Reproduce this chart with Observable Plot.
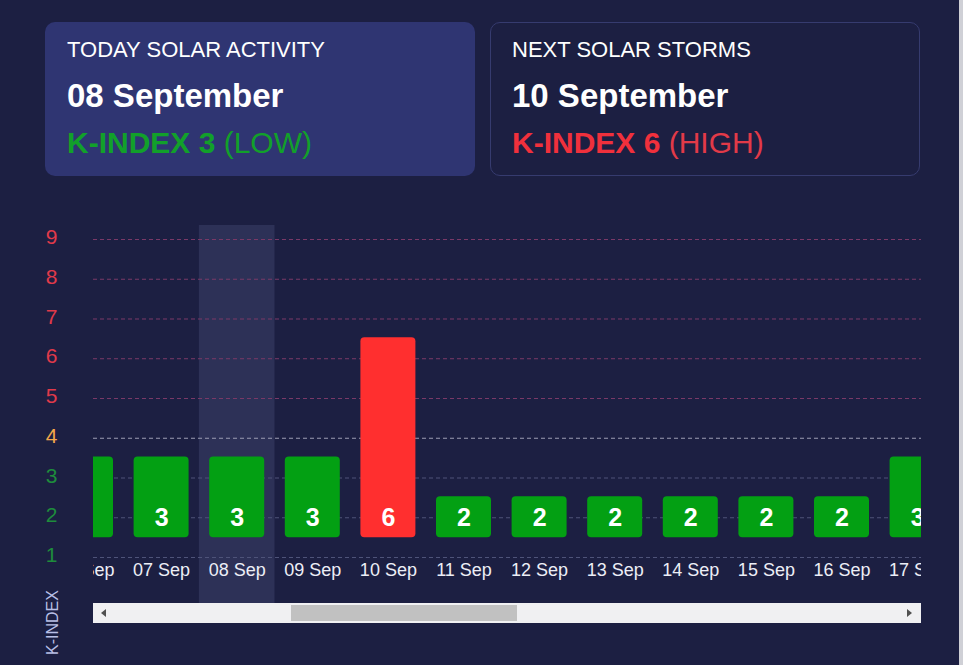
<!DOCTYPE html>
<html>
<head>
<meta charset="utf-8">
<script src="https://cdn.jsdelivr.net/npm/d3@7"></script>
<script src="https://cdn.jsdelivr.net/npm/@observablehq/plot@0.6"></script>
<style>
  html, body { margin: 0; padding: 0; }
  body { width: 963px; height: 665px; background: #1c1f42; position: relative; overflow: hidden;
         font-family: "Liberation Sans", Arial, sans-serif; }
  .card { position: absolute; top: 22px; width: 430px; height: 154px; border-radius: 10px; box-sizing: border-box; }
  .card .t { position: absolute; left: 22px; white-space: nowrap; line-height: 1; }
  .c1 { left: 45px; background: #2f3572; }
  .c2 { left: 490px; background: #1c1f42; border: 1px solid #363b6f; }
  .c2 .t { left: 21px; }
  .title { top: 17px; font-size: 22px; color: #ffffff; }
  .date { top: 57px; font-size: 33px; font-weight: bold; color: #ffffff; }
  .kidx { top: 106px; font-size: 30px; }
  .kidx b { font-weight: bold; }
  .c2 .title { top: 16px; } .c2 .date { top: 56px; } .c2 .kidx { top: 105px; }
  #chart { position: absolute; left: 0; top: 190px; }
  .sb { position: absolute; left: 93px; top: 603px; width: 828px; height: 20px; background: #f0f0f2; }
  .thumb { position: absolute; left: 198px; top: 2px; width: 226px; height: 16px; background: #c1c1c1; }
  .arrL { position: absolute; left: 8px; top: 6px; width: 0; height: 0; border-top: 4px solid transparent; border-bottom: 4px solid transparent; border-right: 5px solid #505050; }
  .arrR { position: absolute; right: 9px; top: 6px; width: 0; height: 0; border-top: 4px solid transparent; border-bottom: 4px solid transparent; border-left: 5px solid #505050; }
  .edge { position: absolute; left: 959px; top: 0; width: 4px; height: 665px; background: #cfd0d6; }
</style>
</head>
<body>
<div class="card c1">
  <div class="t title">TODAY SOLAR ACTIVITY</div>
  <div class="t date">08 September</div>
  <div class="t kidx" style="color:#12a02a"><b>K-INDEX 3</b> (LOW)</div>
</div>
<div class="card c2">
  <div class="t title">NEXT SOLAR STORMS</div>
  <div class="t date">10 September</div>
  <div class="t kidx" style="color:#f0303c"><b>K-INDEX 6</b> <span style="color:#e23a48">(HIGH)</span></div>
</div>
<div id="chart"></div>
<div class="sb"><div class="arrL"></div><div class="thumb"></div><div class="arrR"></div></div>
<div class="edge"></div>
<script>
// ---- data ----
const dates = ["06 Sep", "07 Sep", "08 Sep", "09 Sep", "10 Sep", "11 Sep", "12 Sep", "13 Sep", "14 Sep", "15 Sep", "16 Sep", "17 Sep"];
const kIndex = [3, 3, 3, 3, 6, 2, 2, 2, 2, 2, 2, 3];
const yTicks = [1, 2, 3, 4, 5, 6, 7, 8, 9];
const today = "08 Sep";
const barBase = 1.5;      // floating bar base
const barTopPad = 0.53;   // bar top above value
const yMin = -0.157, yMax = 9.352;

const data = dates.map((d, i) => ({date: d, k: kIndex[i]}));

const levelColor = k => k >= 5 ? "#e13a4a" : k === 4 ? "#f2a74a" : "#1e8c3c";
const barColor = k => k >= 5 ? "#ff2f2f" : "#03a013";
const gridColor = k => k >= 5 ? "#7b3a68" : k === 4 ? "#9c9db4" : "#4e5379";

const chart = Plot.plot({
  width: 963,
  height: 475,
  marginTop: 35,
  marginBottom: 62,
  marginLeft: 93,
  marginRight: 42,
  x: {type: "band", domain: dates, range: [47.7, 954.9], paddingInner: 0, paddingOuter: 0, align: 0.5, round: false, axis: null},
  y: {domain: [yMin, yMax], axis: null},
  style: {background: "transparent", color: "white", fontFamily: "'Liberation Sans', Arial, sans-serif", overflow: "visible"},
  marks: [
    Plot.barY([today], {x: d => d, y1: yMin, y2: yMax, fill: "#2d3157", clip: true}),
    Plot.ruleY(yTicks, {y: d => d, stroke: d => gridColor(d), strokeWidth: 1, strokeDasharray: "4,3", clip: true}),
    Plot.barY(data, {x: "date", y1: barBase, y2: d => d.k + barTopPad, fill: d => barColor(d.k),
      insetLeft: 10.3, insetRight: 10.3, rx: 4, clip: true}),
    Plot.text(data, {x: "date", text: d => String(d.k), frameAnchor: "bottom", lineAnchor: "middle", dy: -86,
      fill: "#ffffff", fontWeight: "bold", fontSize: 25, clip: true}),
    Plot.text(dates, {x: d => d, text: d => d, frameAnchor: "bottom", lineAnchor: "middle", dy: -33,
      fill: "#eceef6", fontSize: 18, clip: true}),
    Plot.text(yTicks, {y: d => d, text: d => String(d), frameAnchor: "left", dx: -42, dy: -2,
      textAnchor: "middle", fill: d => levelColor(d), fontSize: 21}),
    Plot.text(["K-INDEX"], {frameAnchor: "bottom-left", dx: -41, dy: 19, rotate: -90,
      textAnchor: "middle", lineAnchor: "middle", fill: "#b9bfe6", fontSize: 16})
  ]
});
document.getElementById("chart").appendChild(chart);
</script>
</body>
</html>
